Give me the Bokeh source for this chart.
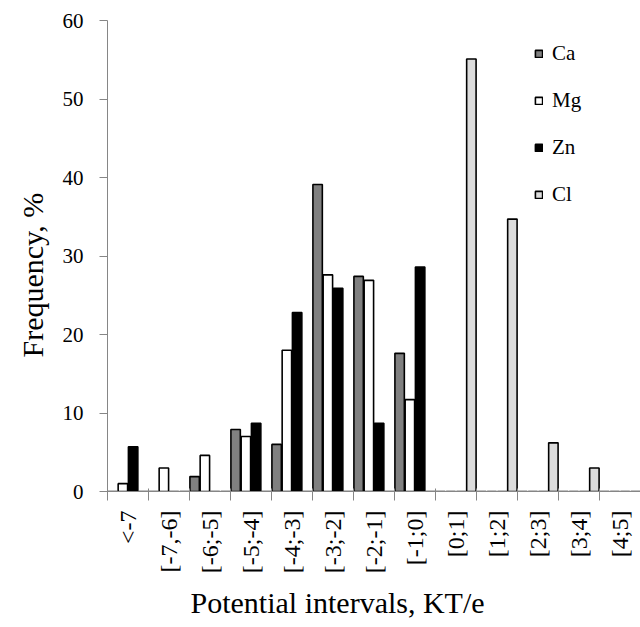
from math import pi
from bokeh.plotting import figure
from bokeh.models import (ColumnDataSource, Range1d, LinearAxis, Title,
                          FixedTicker, SingleIntervalTicker)
from bokeh.transform import dodge
from bokeh.embed import file_html
from bokeh.resources import INLINE

categories = ["<-7", "[-7,-6]", "[-6;-5]", "[-5;-4]", "[-4;-3]", "[-3;-2]",
              "[-2;-1]", "[-1;0]", "[0;1]", "[1;2]", "[2;3]", "[3;4]", "[4;5]"]
ca = [0, 0, 1.9, 7.9, 6.0, 39.1, 27.4, 17.6, 0, 0, 0, 0, 0]
mg = [1.0, 3.0, 4.6, 7.0, 18.0, 27.6, 26.9, 11.7, 0, 0, 0, 0, 0]
zn = [5.7, 0, 0, 8.7, 22.8, 25.9, 8.7, 28.6, 0, 0, 0, 0, 0]
cl = [0, 0, 0, 0, 0, 0, 0, 0, 55.1, 34.7, 6.2, 3.0, 0]
series_names = ["Ca", "Mg", "Zn", "Cl"]
series_colors = ["#808080", "#ffffff", "#000000", "#dcdcdc"]
x_title = "Potential intervals, KT/e"
y_title = "Frequency, %"

n = len(categories)
centers = [i + 0.5 for i in range(n)]
boundaries = list(range(n + 1))
source = ColumnDataSource(data=dict(pos=centers, cat=categories,
                                    Ca=ca, Mg=mg, Zn=zn, Cl=cl))

FONT = "Liberation Serif"
AX = "#868686"

p = figure(width=640, height=627, x_range=Range1d(0, n),
           y_range=Range1d(0, 60), output_backend="svg", toolbar_location=None,
           x_axis_location=None, min_border_left=107, min_border_right=0,
           min_border_top=20, min_border_bottom=136)
p.outline_line_color = None
p.xgrid.visible = False
p.ygrid.visible = False
p.background_fill_color = "white"
p.border_fill_color = "white"

offsets = [-0.375, -0.125, 0.125, 0.375]
for name, col, off in zip(series_names, series_colors, offsets):
    p.vbar(x=dodge("pos", off), top=name, bottom=0, width=0.23,
           source=source, fill_color=col, line_color="black", line_width=1.6,
           legend_label=name)

# y axis
ya = p.yaxis[0]
ya.ticker = SingleIntervalTicker(interval=10)
ya.minor_tick_line_color = None
ya.major_tick_in = 0
ya.major_tick_out = 8
ya.major_tick_line_color = AX
ya.axis_line_color = AX
ya.major_label_standoff = 16
ya.major_label_text_font = FONT
ya.major_label_text_font_size = "21px"
ya.major_label_text_color = "black"

# x axis: labels at category centres, ticks at category boundaries (minor ticks)
xa = LinearAxis(ticker=FixedTicker(ticks=centers, minor_ticks=boundaries),
                major_label_overrides={c: lab for c, lab in zip(centers, categories)})
xa.axis_line_color = AX
xa.major_tick_line_color = None
xa.minor_tick_line_color = AX
xa.minor_tick_in = 3
xa.minor_tick_out = 9
xa.major_tick_out = 9
xa.major_tick_in = 0
xa.major_label_orientation = pi / 2
xa.major_label_standoff = 10
xa.major_label_text_font = FONT
xa.major_label_text_font_size = "24px"
xa.major_label_text_color = "black"
p.add_layout(xa, "below")

# axis titles (the x title is off-centre in the reference)
p.add_layout(Title(text=x_title, align="left", offset=83, standoff=14,
                   text_font=FONT, text_font_size="30px", text_font_style="normal",
                   text_color="black"), "below")
p.add_layout(Title(text=y_title, align="left", offset=134, standoff=22,
                   text_font=FONT, text_font_size="30px", text_font_style="normal",
                   text_color="black"), "left")

lg = p.legend[0]
lg.location = (427, 284)
lg.border_line_color = None
lg.background_fill_alpha = 0
lg.padding = 0
lg.margin = 0
lg.spacing = 22
lg.glyph_width = 9
lg.glyph_height = 9
lg.label_standoff = 9
lg.label_text_font = FONT
lg.label_text_font_size = "21px"
lg.label_text_color = "black"
lg.label_height = 20

open("out.html", "w").write(file_html(p, INLINE))
